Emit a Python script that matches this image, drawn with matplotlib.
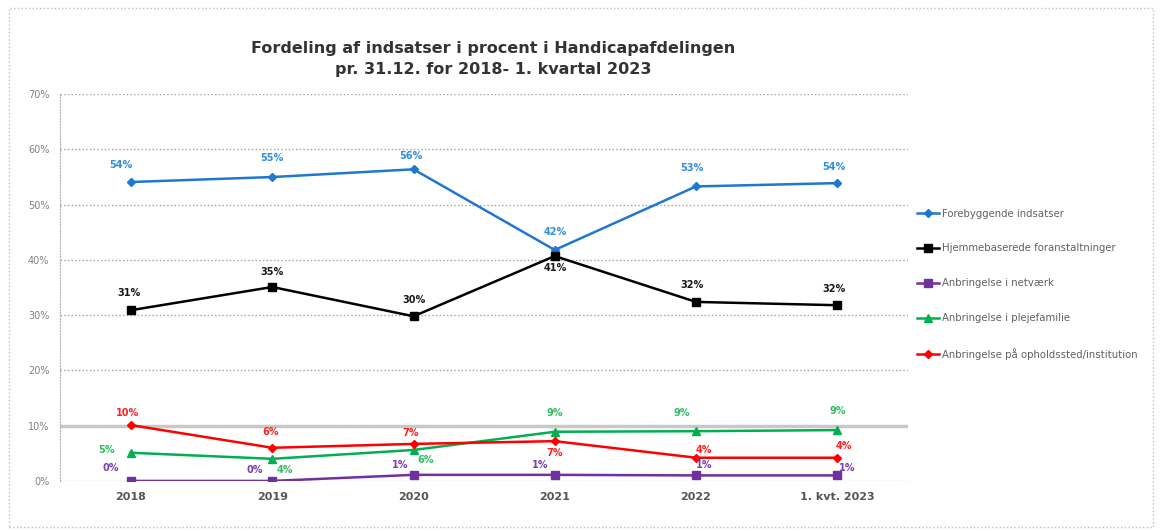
import matplotlib.pyplot as plt
from matplotlib.patches import Rectangle

# data (percent)
years = ["2018", "2019", "2020", "2021", "2022", "1. kvt. 2023"]
forebyggende = [54.1, 55.0, 56.4, 41.8, 53.3, 53.9]
hjemmebaserede = [30.9, 35.1, 29.8, 40.7, 32.4, 31.8]
netvaerk = [0.0, 0.0, 1.1, 1.1, 1.0, 1.0]
plejefamilie = [5.1, 4.0, 5.6, 8.9, 9.0, 9.2]
institution = [10.1, 6.0, 6.7, 7.2, 4.2, 4.2]

names = ["Forebyggende indsatser", "Hjemmebaserede foranstaltninger",
         "Anbringelse i netværk", "Anbringelse i plejefamilie",
         "Anbringelse på opholdssted/institution"]

series = [forebyggende, hjemmebaserede, netvaerk, plejefamilie, institution]
colors = ["#1f77d0", "#000000", "#7030a0", "#00b050", "#ff0000"]
label_colors = ["#2e8ee0", "#1a1a1a", "#7a3fb0", "#2fbf5f", "#ff2020"]
markers = ["D", "s", "s", "^", "D"]
msizes = [4, 6, 6, 6, 4]

# label offsets in pixels (dx, dy) for each point
offsets = [
    [(-10, 17), (0, 19), (-3, 13), (0, 18), (-4, 18), (-3, 16)],
    [(-2, 17), (0, 15), (0, 16), (0, -12), (-4, 17), (-3, 16)],
    [(-20, 13), (-18, 11), (-13, 10), (-15, 10), (8, 10), (10, 7)],
    [(-24, 3), (13, -11), (12, -10), (0, 19), (-14, 18), (0, 19)],
    [(-3, 12), (-2, 16), (-3, 11), (0, -12), (8, 8), (7, 12)],
]

fig = plt.figure(figsize=(11.61, 5.32), dpi=100)
ax = fig.add_axes([0.052, 0.096, 0.730, 0.727])

x = list(range(len(years)))
for i in range(len(series)):
    ax.plot(x, series[i], color=colors[i], marker=markers[i], markersize=msizes[i],
            linewidth=1.8, label=names[i])
    for j in range(len(years)):
        v = series[i][j]
        ax.annotate("%d%%" % round(v), (x[j], v), xytext=offsets[i][j],
                    textcoords="offset pixels", ha="center", va="center",
                    fontsize=7, fontweight="bold", color=label_colors[i])

ax.set_xlim(-0.5, len(years) - 0.5)
ax.set_ylim(0, 70)
ax.set_yticks(range(0, 71, 10))
ax.set_yticklabels(["%d%%" % t for t in range(0, 71, 10)], fontsize=7, color="#808080")
ax.set_xticks(x)
ax.set_xticklabels(years, fontsize=8, fontweight="bold", color="#555555")
ax.tick_params(length=0, pad=8)

for t in range(10, 71, 10):
    if t == 10:
        ax.axhline(t, color="#c8c8c8", linewidth=2.5, zorder=0)
    else:
        ax.axhline(t, color="#a0a0a0", linewidth=1, linestyle=":", zorder=0)
ax.axhline(0, color="#b0b0b0", linewidth=1, linestyle=":", zorder=0)

for s in ["top", "right", "bottom"]:
    ax.spines[s].set_visible(False)
ax.spines["left"].set_color("#b0b0b0")
ax.spines["left"].set_linestyle(":")

fig.text(0.425, 0.89, "Fordeling af indsatser i procent i Handicapafdelingen\npr. 31.12. for 2018- 1. kvartal 2023",
         ha="center", va="center", fontsize=11.5, fontweight="bold", color="#333333",
         linespacing=1.5)

leg = fig.legend(loc="upper left", bbox_to_anchor=(0.782, 0.625), frameon=False,
                 fontsize=7.3, labelspacing=2.45, handlelength=2.2, handletextpad=0.3)
for t in leg.get_texts():
    t.set_color("#606060")

fig.patches.append(Rectangle((0.008, 0.01), 0.985, 0.975, transform=fig.transFigure,
                             fill=False, edgecolor="#c0c0c0", linestyle=":", linewidth=1))

plt.savefig("out.png")
